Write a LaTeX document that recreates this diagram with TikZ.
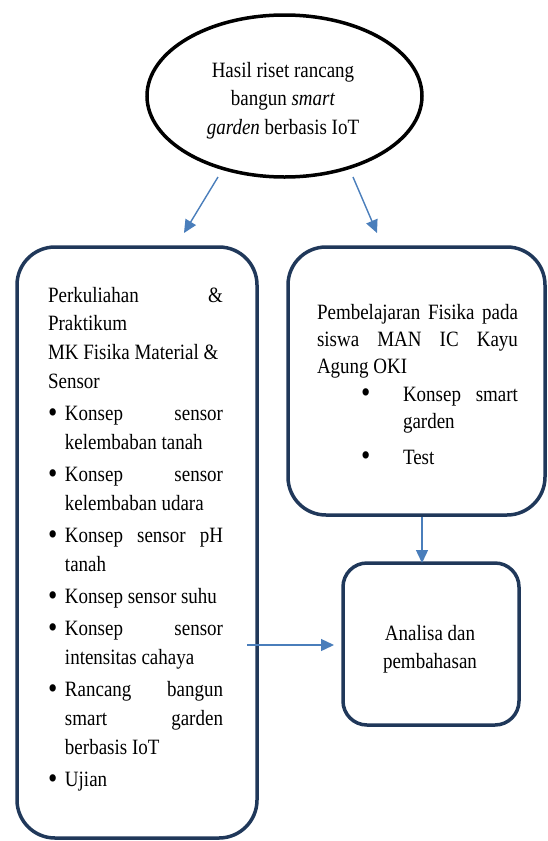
\documentclass[tikz,border=0pt]{standalone}
\usepackage{fontspec}
\setmainfont{Liberation Serif}
\usepackage{graphicx}
\usetikzlibrary{shapes.geometric,arrows.meta}
\definecolor{boxnavy}{RGB}{32,56,90}
\definecolor{arrowblue}{RGB}{74,126,187}
\newcommand{\vstr}[1]{\scalebox{1}[1.15]{#1}}
\newcommand{\bigbul}{\raisebox{-1.6pt}{\scalebox{1.4}{\textbullet}}}
\newcommand{\lbul}{\makebox[17pt][l]{\hspace{0pt}\bigbul}}
\newcommand{\lind}{\hspace*{17pt}}
\newcommand{\rbul}{\hspace*{44pt}\makebox[42pt][l]{\bigbul}}
\newcommand{\rind}{\hspace*{86pt}}
\tikzset{
  roundbox/.style={draw=boxnavy, line width=3.5pt, rounded corners=38pt, inner sep=0pt},
  txt/.style={inner sep=0pt, outer sep=0pt},
  arr/.style={draw=arrowblue, line width=1.4pt, -{Triangle[length=13pt,width=12pt]}}
}
\begin{document}
\begin{tikzpicture}[x=1pt,y=1pt]
\useasboundingbox (0,0) rectangle (547,-841);
% top ellipse
\node[draw=black, line width=3.5pt, ellipse, minimum width=275pt, minimum height=162pt, inner sep=0pt] (top) at (284.5,-96) {};
\node[txt, anchor=base] (toptext) at (283,-77) {\vstr{\parbox[t]{220pt}{\fontsize{19}{25.2}\selectfont\centering
Hasil riset rancang\\
bangun \textit{smart}\\
\textit{garden} berbasis IoT}}};
% boxes
\node[roundbox, minimum width=240pt, minimum height=591pt] (lbox) at (137,-542.5) {};
\node[roundbox, minimum width=257pt, minimum height=268pt] (rbox) at (416.5,-381) {};
\node[roundbox, rounded corners=24pt, minimum width=176pt, minimum height=162pt] (ana) at (431,-644) {};
% left text
\node[txt, anchor=base west] (ltext) at (48,-302) {\vstr{\parbox[t]{175pt}{\fontsize{19}{25.2}\selectfont
Perkuliahan\hfill\&\\
Praktikum\\
MK Fisika Material \&\\
Sensor\\[2.6pt]
\lbul Konsep\hfill sensor\\
\lind kelembaban tanah\\[2.6pt]
\lbul Konsep\hfill sensor\\
\lind kelembaban udara\\[2.6pt]
\lbul Konsep\hfill sensor\hfill pH\\
\lind tanah\\[2.6pt]
\lbul Konsep sensor suhu\\[2.6pt]
\lbul Konsep\hfill sensor\\
\lind intensitas cahaya\\[2.6pt]
\lbul Rancang\hfill bangun\\
\lind smart\hfill garden\\
\lind berbasis IoT\\[2.6pt]
\lbul Ujian}}};
% right text
\node[txt, anchor=base west] (rtext) at (317,-319) {\vstr{\parbox[t]{201pt}{\fontsize{19}{23.5}\selectfont
Pembelajaran\hfill Fisika\hfill pada\\
siswa\hfill MAN\hfill IC\hfill Kayu\\
Agung OKI\\[0.9pt]
\rbul Konsep\hfill smart\\
\rind garden\\[7.8pt]
\rbul Test}}};
% analysis text
\node[txt, anchor=base] (anatext) at (430,-640) {\vstr{\parbox[t]{170pt}{\fontsize{19}{25.2}\selectfont\centering
Analisa dan\\
pembahasan}}};
% connectors
\coordinate (a1) at (218,-177);
\coordinate (a2) at (184,-233);
\coordinate (b1) at (353,-177);
\coordinate (b2) at (377,-233);
\coordinate (v1) at (422,-517);
\coordinate (v2) at (422,-563);
\coordinate (h1) at (247,-645);
\coordinate (h2) at (334,-645);
\draw[arr] (a1) -- (a2);
\draw[arr] (b1) -- (b2);
\draw[arr] (v1) -- (v2);
\draw[arr] (h1) -- (h2);
\end{tikzpicture}
\end{document}
